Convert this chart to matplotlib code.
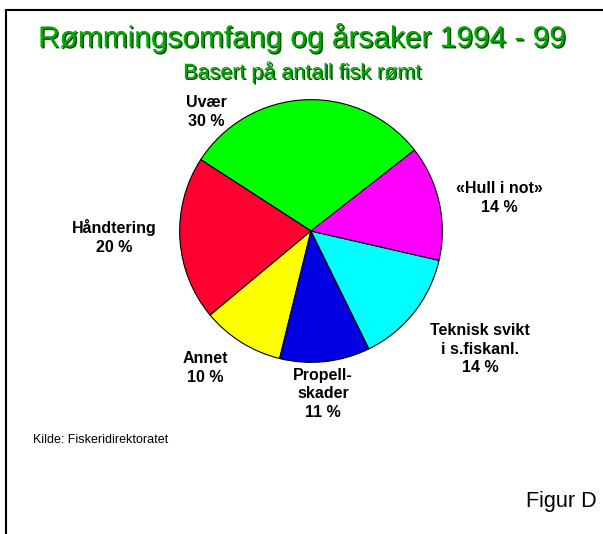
import matplotlib
matplotlib.use("Agg")
import matplotlib.pyplot as plt
import matplotlib.patheffects as pe
from matplotlib.lines import Line2D

plt.rcParams['font.family'] = ['Liberation Sans', 'DejaVu Sans']

# data
arsaker = ['Uvær', 'Håndtering', 'Annet', 'Propell-\nskader', 'Teknisk svikt\ni s.fiskanl.', '«Hull i not»']
andel = [30, 20, 10, 11, 14, 14]
farger = ['#00ff00', '#ff0030', '#ffff00', '#0000e0', '#00ffff', '#ff00ff']

W, H = 603, 534
fig = plt.figure(figsize=(W / 100, H / 100), dpi=100)

# pie axes, center ~ (311, 231) px, radius ~132 px
cx, cy, r = 311, 231, 132
ax = fig.add_axes([(cx - r) / W, (H - cy - r) / H, 2 * r / W, 2 * r / H])
ax.pie(andel, colors=farger, startangle=38, counterclock=True,
       wedgeprops=dict(edgecolor='black', linewidth=0.8))
ax.set_xlim(-1.005, 1.005)
ax.set_ylim(-1.005, 1.005)
ax.set_aspect('equal')
ax.axis('off')

# label positions in pixels (x, y of text center)
pos = [(206, 112), (114, 237), (205, 368), (323, 394), (480, 349), (499, 198)]
for navn, v, (px, py) in zip(arsaker, andel, pos):
    fig.text(px / W, 1 - py / H, f"{navn}\n{v} %", ha='center', va='center',
             fontsize=11.5, fontweight='bold', linespacing=1.32)

skygge = [pe.withSimplePatchShadow(offset=(1, -1), shadow_rgbFace='#004a00', alpha=1)]
fig.text(302 / W, 1 - 38 / H, 'Rømmingsomfang og årsaker 1994 - 99', ha='center', va='center',
         fontsize=21.5, color='#00a800', path_effects=skygge)
fig.text(302 / W, 1 - 72 / H, 'Basert på antall fisk rømt', ha='center', va='center',
         fontsize=15.5, color='#00a800', path_effects=skygge)

fig.text(33 / W, 1 - 440 / H, 'Kilde: Fiskeridirektoratet', ha='left', va='center', fontsize=9)
fig.text(597 / W, 1 - 501 / H, 'Figur D', ha='right', va='center', fontsize=15.5)

# frame: top and left line
fig.add_artist(Line2D([6 / W, 1], [1 - 10 / H, 1 - 10 / H], color='black', lw=1.5))
fig.add_artist(Line2D([6 / W, 6 / W], [0, 1 - 10 / H], color='black', lw=1.5))

fig.savefig('out.png', dpi=100)
